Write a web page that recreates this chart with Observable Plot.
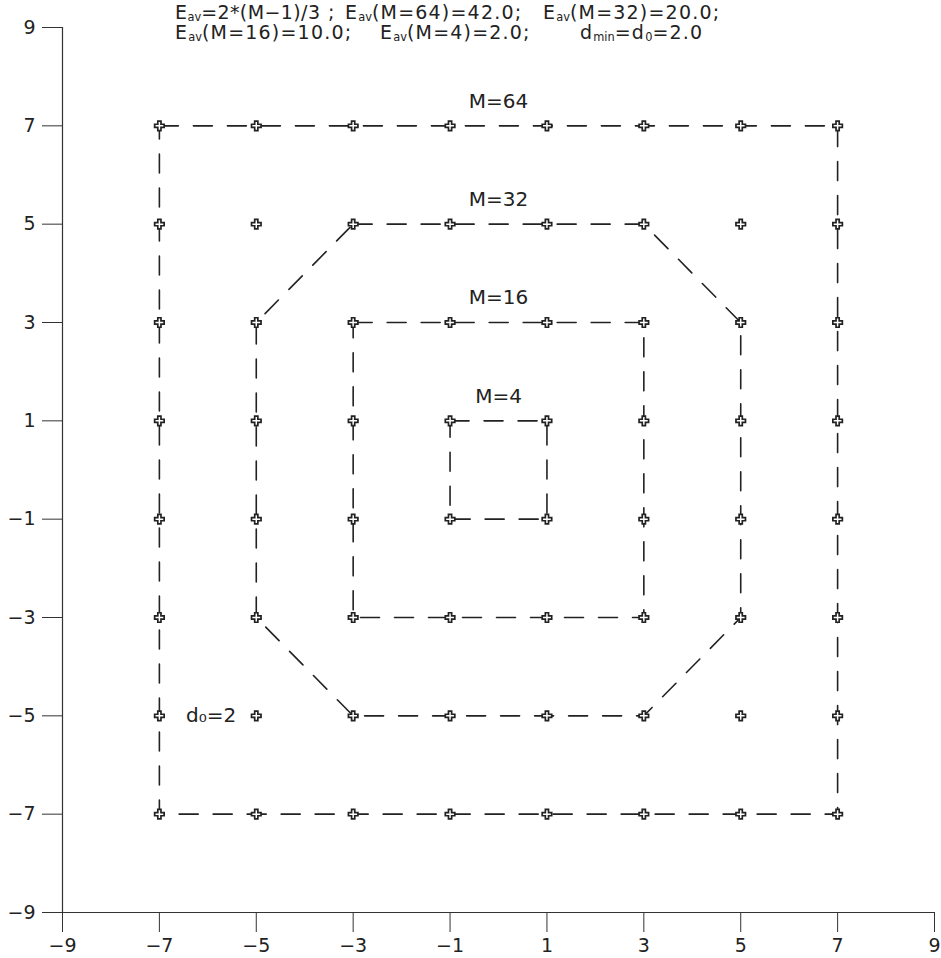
<!DOCTYPE html>
<html>
<head>
<meta charset="utf-8">
<script src="https://cdn.jsdelivr.net/npm/d3@7"></script>
<script src="https://cdn.jsdelivr.net/npm/@observablehq/plot@0.6"></script>
<style>
  html, body { margin: 0; padding: 0; background: #fff; }
  #wrap { position: relative; width: 941px; height: 958px; }
  .t { position: absolute; font-family: "DejaVu Sans", sans-serif; font-size: 19px; line-height: 20px; color: #222; white-space: pre; letter-spacing: 1.2px; }
  .t sub { font-size: 60%; line-height: 0; vertical-align: -0.15em; letter-spacing: 0; }
</style>
</head>
<body>
<div id="wrap">
  <div id="chart"></div>
  <span class="t" style="left:175px; top:2px; letter-spacing:0.4px">E<sub>av</sub>=2*(M−1)/3</span>
  <span class="t" style="left:328px; top:2px">;</span>
  <span class="t" style="left:345px; top:2px">E<sub>av</sub>(M=64)=42.0;</span>
  <span class="t" style="left:543px; top:2px">E<sub>av</sub>(M=32)=20.0;</span>
  <span class="t" style="left:175px; top:22px">E<sub>av</sub>(M=16)=10.0;</span>
  <span class="t" style="left:380px; top:22px">E<sub>av</sub>(M=4)=2.0;</span>
  <span class="t" style="left:580px; top:22px">d<sub>min</sub>=d<sub>0</sub>=2.0</span>
</div>
<script>
const ticks = [-9, -7, -5, -3, -1, 1, 3, 5, 7, 9];
const gridX = [-7, -5, -3, -1, 1, 3, 5, 7];
const gridY = [-7, -5, -3, -1, 1, 3, 5, 7];

const m64X = [-7, 7, 7, -7, -7];
const m64Y = [7, 7, -7, -7, 7];
const m32X = [-3, 3, 5, 5, 3, -3, -5, -5, -3];
const m32Y = [5, 5, 3, -3, -5, -5, -3, 3, 5];
const m16X = [-3, 3, 3, -3, -3];
const m16Y = [3, 3, -3, -3, 3];
const m4X = [-1, 1, 1, -1, -1];
const m4Y = [1, 1, -1, -1, 1];

const labelText = ["M=64", "M=32", "M=16", "M=4"];
const labelX = [0, 0, 0, 0];
const labelY = [7.5, 5.5, 3.5, 1.5];

const dLabel = ["d₀=2"];
const dLabelX = [-6.45];
const dLabelY = [-5];

const points = d3.cross(gridX, gridY).map(([x, y]) => ({x, y}));
const toPath = (xs, ys) => xs.map((x, i) => ({x, y: ys[i]}));
const boundaries = [toPath(m64X, m64Y), toPath(m32X, m32Y), toPath(m16X, m16Y), toPath(m4X, m4Y)];
const labels = labelText.map((t, i) => ({t, x: labelX[i], y: labelY[i]}));
const dLabels = dLabel.map((t, i) => ({t, x: dLabelX[i], y: dLabelY[i]}));

const chart = Plot.plot({
  width: 941,
  height: 958,
  marginLeft: 62,
  marginRight: 7,
  marginTop: 27,
  marginBottom: 46,
  style: {fontFamily: "DejaVu Sans, sans-serif", fontSize: "19px", color: "#222", background: "#fff"},
  x: {domain: [-9, 9], label: null},
  y: {domain: [-9, 9], label: null},
  marks: [
    Plot.axisX({ticks, tickSize: 20, tickPadding: 6, label: null, fontSize: 19, stroke: "#333"}),
    Plot.axisY({ticks, tickSize: 20, tickPadding: 7, label: null, fontSize: 19, stroke: "#333"}),
    Plot.ruleX([-9], {y1: -9, y2: 9, stroke: "#333", strokeWidth: 1.2}),
    Plot.ruleY([-9], {x1: -9, x2: 9, stroke: "#333", strokeWidth: 1.2}),
    ...boundaries.map(b => Plot.line(b, {x: "x", y: "y", stroke: "#222", strokeWidth: 1.6, strokeDasharray: "19,15"})),
    Plot.dot(points, {x: "x", y: "y", symbol: "cross", r: 4, fill: "#fff", stroke: "#222", strokeWidth: 1.7}),
    Plot.text(labels, {x: "x", y: "y", text: "t", fontSize: 20, fill: "#222"}),
    Plot.text(dLabels, {x: "x", y: "y", text: "t", fontSize: 20, fill: "#222", textAnchor: "start"})
  ]
});
document.getElementById("chart").appendChild(chart);
</script>
</body>
</html>
